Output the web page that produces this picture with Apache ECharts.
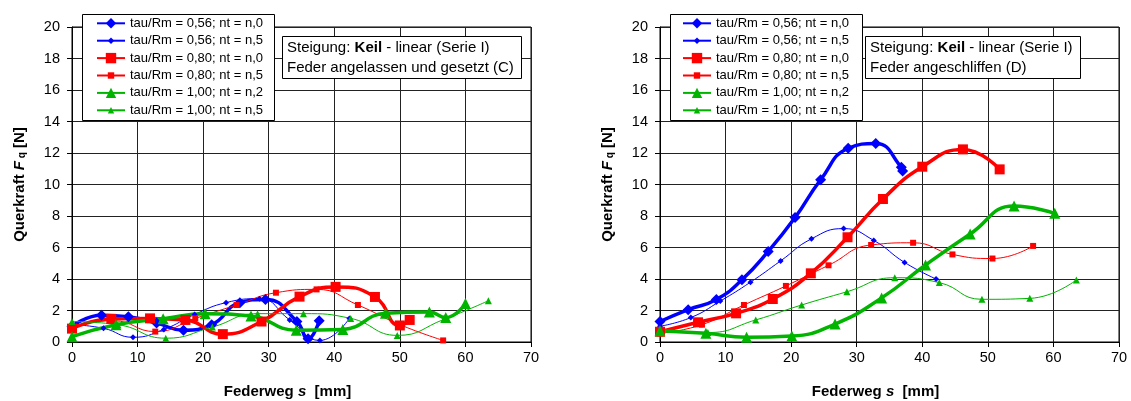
<!DOCTYPE html>
<html>
<head>
<meta charset="utf-8">
<script src="https://cdn.jsdelivr.net/npm/echarts@6/dist/echarts.min.js"></script>
<style>
  html, body { margin: 0; padding: 0; background: #fff; }
  #main { width: 1131px; height: 401px; }
</style>
</head>
<body>
<div id="main"></div>
<script>
// Legenden-Namen
const names = [
    'tau/Rm = 0,56; nt = n,0',
    'tau/Rm = 0,56; nt = n,5',
    'tau/Rm = 0,80; nt = n,0',
    'tau/Rm = 0,80; nt = n,5',
    'tau/Rm = 1,00; nt = n,2',
    'tau/Rm = 1,00; nt = n,5'
];

// Achsen
const xMin = 0, xMax = 70, xStep = 10;
const yMin = 0, yMax = 20, yStep = 2;

// (C) Feder angelassen und gesetzt  -  [Federweg s, Querkraft Fq]
const c056n0 = [[0,1.0],[4.5,1.7],[8.6,1.6],[12.9,1.2],[17.0,0.75],[21.3,1.1],[25.6,2.5],[29.5,2.7],[34.3,1.3],[36.0,0.2],[37.7,1.35]];
const c056n5 = [[0,1.1],[4.8,0.87],[9.3,0.3],[14.0,0.8],[18.7,1.75],[23.5,2.5],[28.6,2.75],[33.2,1.4],[37.8,0.1],[42.3,1.5]];
const c080n0 = [[0,0.85],[6.0,1.47],[11.9,1.5],[17.3,1.4],[23.0,0.5],[28.9,1.3],[34.7,2.88],[40.2,3.5],[46.2,2.86],[50.0,1.05],[51.5,1.4]];
const c080n5 = [[0,1.0],[6.3,1.35],[12.7,0.66],[18.8,1.5],[25.1,2.35],[31.1,3.13],[37.3,3.34],[43.6,2.35],[50.0,1.1],[56.6,0.1]];
const c100n2 = [[0,0.34],[6.7,1.1],[13.9,1.47],[20.3,1.8],[27.3,1.65],[34.2,0.75],[41.3,0.8],[47.8,1.82],[54.5,1.9],[57.0,1.55],[60.0,2.45]];
const c100n5 = [[0,1.3],[7.0,1.1],[14.3,0.24],[21.4,0.95],[28.3,1.8],[35.3,1.8],[42.5,1.5],[49.6,0.42],[56.8,1.45],[63.5,2.62]];

// (D) Feder angeschliffen
const d056n0 = [[0,1.3],[4.3,2.05],[8.6,2.7],[12.5,3.95],[16.5,5.75],[20.6,7.9],[24.5,10.3],[28.7,12.3],[32.9,12.6],[36.8,11.1],[37.0,10.85]];
const d056n5 = [[0,1.0],[4.7,1.55],[9.2,2.6],[13.8,3.8],[18.4,5.15],[23.1,6.55],[28.0,7.2],[32.6,6.45],[37.3,5.05],[42.1,4.0]];
const d080n0 = [[0,0.65],[5.8,1.25],[11.6,1.82],[17.2,2.73],[23.0,4.36],[28.6,6.65],[34.0,9.08],[40.0,11.13],[46.2,12.23],[51.8,10.96]];
const d080n5 = [[0,0.55],[6.4,1.1],[12.8,2.35],[19.2,3.56],[25.7,4.87],[32.2,6.16],[38.6,6.3],[44.6,5.56],[50.7,5.3],[56.9,6.1]];
const d100n2 = [[0,0.72],[7.0,0.55],[13.2,0.3],[20.1,0.38],[26.7,1.14],[33.8,2.8],[40.5,4.89],[47.3,6.86],[54.0,8.63],[60.2,8.17]];
const d100n5 = [[0,0.75],[7.3,0.6],[14.6,1.4],[21.6,2.35],[28.5,3.19],[35.8,4.08],[42.6,3.77],[49.1,2.71],[56.4,2.77],[63.5,3.94]];

const dataC = [c056n0, c056n5, c080n0, c080n5, c100n2, c100n5];
const dataD = [d056n0, d056n5, d080n0, d080n5, d100n2, d100n5];

const FONT = '"Liberation Sans", Arial, sans-serif';
const GREEN = '#00b400';
let styles = [
    {color: '#0000ff', symbol: 'diamond',  size: 11, width: 3.5},
    {color: '#0000ff', symbol: 'diamond',  size: 6,  width: 1},
    {color: '#ff0000', symbol: 'rect',     size: 10, width: 3.5},
    {color: '#ff0000', symbol: 'rect',     size: 6,  width: 1},
    {color: GREEN,     symbol: 'triangle', size: 11, width: 3.5},
    {color: GREEN,     symbol: 'triangle', size: 7,  width: 1}
];

let grids = [
    {left: 72, top: 27, width: 459, height: 315},
    {left: 660, top: 27, width: 459, height: 315}
];
grids.forEach(function (g) {
    g.show = true;
    g.borderColor = '#000';
    g.borderWidth = 1;
    g.backgroundColor = 'transparent';
    g.containLabel = false;
    g.outerBoundsMode = 'none';
});

function xAxis(i) {
    return {
        type: 'value', gridIndex: i, min: xMin, max: xMax, interval: xStep,
        name: '{b|Federweg }{i|s}{b|  [mm]}',
        nameLocation: 'middle', nameGap: 42,
        nameTextStyle: {
            padding: [0, 28, 0, 0],
            rich: {
                b: {fontFamily: FONT, fontSize: 15, fontWeight: 'bold', color: '#000'},
                i: {fontFamily: FONT, fontSize: 15, fontWeight: 'bold', fontStyle: 'italic', color: '#000'}
            }
        },
        axisLine: {onZero: false, lineStyle: {color: '#000', width: 1}},
        axisTick: {show: true, inside: false, length: 5, lineStyle: {color: '#000'}},
        axisLabel: {margin: 8, color: '#000', fontFamily: FONT, fontSize: 14.5},
        splitLine: {show: true, lineStyle: {color: '#222', width: 1}}
    };
}

function yAxis(i) {
    return {
        type: 'value', gridIndex: i, min: yMin, max: yMax, interval: yStep,
        name: '{b|Querkraft }{i|F}{s| q}{b| [N]}',
        nameLocation: 'middle', nameGap: 45, nameRotate: 90,
        nameTextStyle: {
            rich: {
                b: {fontFamily: FONT, fontSize: 15, fontWeight: 'bold', color: '#000'},
                i: {fontFamily: FONT, fontSize: 15, fontWeight: 'bold', fontStyle: 'italic', color: '#000'},
                s: {fontFamily: FONT, fontSize: 10, fontWeight: 'bold', color: '#000', verticalAlign: 'bottom'}
            }
        },
        axisLine: {show: true, onZero: false, lineStyle: {color: '#000', width: 1}},
        axisTick: {show: true, inside: false, length: 5, lineStyle: {color: '#000'}},
        axisLabel: {margin: 12, color: '#000', fontFamily: FONT, fontSize: 14.5},
        splitLine: {show: true, lineStyle: {color: '#222', width: 1}}
    };
}

let series = [];
[dataC, dataD].forEach(function (set, gi) {
    set.forEach(function (points, k) {
        let st = styles[k];
        series.push({
            name: names[k],
            type: 'line',
            xAxisIndex: gi,
            yAxisIndex: gi,
            data: points,
            smooth: 0.5,
            symbol: st.symbol,
            symbolSize: st.size,
            showAllSymbol: true,
            clip: true,
            animation: false,
            itemStyle: {color: st.color},
            lineStyle: {color: st.color, width: st.width},
            emphasis: {disabled: true}
        });
    });
});

// Legende: eine Komponente je Eintrag, damit die Symbolgroesse stimmt
let legends = [];
let legendIconLeft = [96, 682];
legendIconLeft.forEach(function (lx) {
    names.forEach(function (n, k) {
        let thick = styles[k].width > 2;
        let cy = 24.3 + 17.4 * k;
        legends.push({
            data: [n],
            left: lx,
            top: cy - 7.5,
            orient: 'vertical',
            padding: 0,
            itemWidth: 28,
            itemHeight: thick ? 13 : 8,
            selectedMode: false,
            textStyle: {fontFamily: FONT, fontSize: 13, color: '#000'}
        });
    });
});

function noteBox(left, line2) {
    return {
        left: left, top: 34,
        text: '{n|Steigung: }{b|Keil}{n| - linear (Serie I)}\n{n|' + line2 + '}',
        padding: [4, 8, 3, 5],
        borderColor: '#000',
        borderWidth: 1,
        backgroundColor: '#fff',
        textStyle: {
            fontWeight: 'normal',
            rich: {
                n: {fontFamily: FONT, fontSize: 15, fontWeight: 'normal', color: '#000', lineHeight: 20},
                b: {fontFamily: FONT, fontSize: 15, fontWeight: 'bold', color: '#000', lineHeight: 20}
            }
        }
    };
}

let chart = echarts.init(document.getElementById('main'), null, {renderer: 'canvas'});
chart.setOption({
    animation: false,
    backgroundColor: '#fff',
    title: [
        noteBox(282, 'Feder angelassen und gesetzt (C)'),
        noteBox(865, 'Feder angeschliffen (D)')
    ],
    grid: grids,
    xAxis: [xAxis(0), xAxis(1)],
    yAxis: [yAxis(0), yAxis(1)],
    legend: legends,
    graphic: [
        {type: 'rect', left: 82, top: 14, z: 3, shape: {width: 192, height: 106},
            style: {fill: '#fff', stroke: '#000', lineWidth: 1}},
        {type: 'rect', left: 670, top: 14, z: 3, shape: {width: 192, height: 106},
            style: {fill: '#fff', stroke: '#000', lineWidth: 1}}
    ],
    series: series
});
</script>
</body>
</html>
